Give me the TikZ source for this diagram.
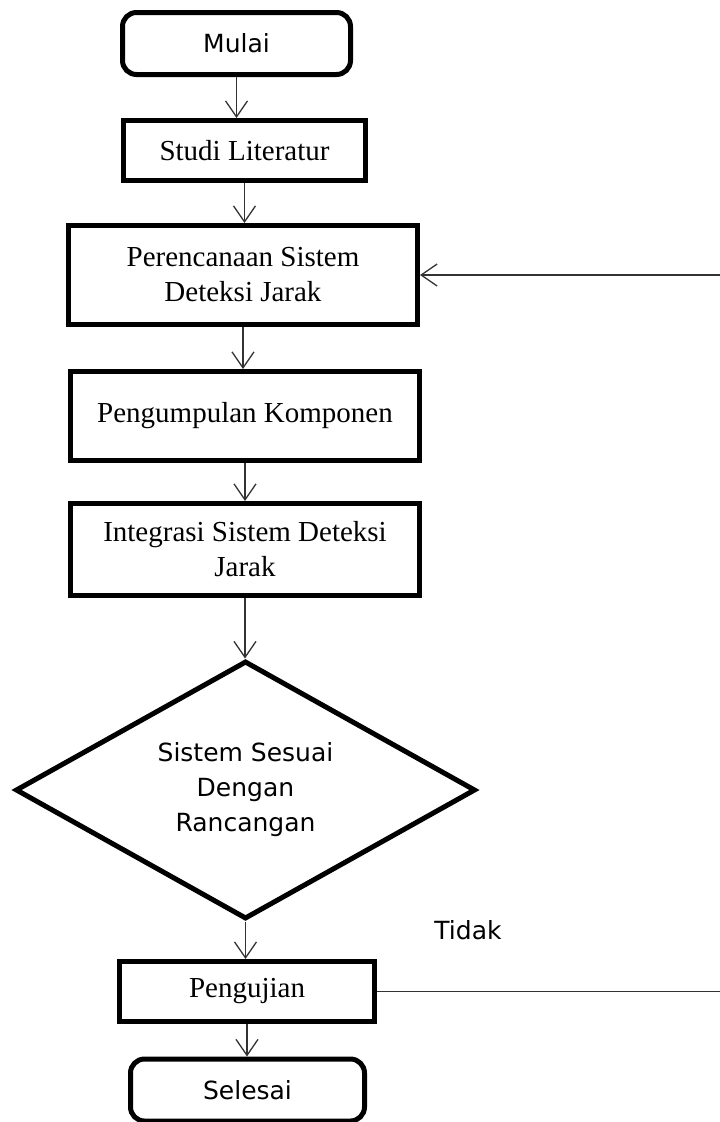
\documentclass[tikz,border=0pt]{standalone}
\usepackage{fontspec}
\setmainfont{Liberation Serif}
\newfontfamily\sansv{DejaVu Sans}
\usetikzlibrary{shapes.geometric, arrows.meta, positioning}

\tikzset{
  proses/.style={draw=black, line width=5pt, fill=white, align=center, inner sep=0pt,
    font=\fontsize{29}{35}\selectfont},
  terminal/.style={draw=black, line width=5pt, rounded corners=14pt, fill=white, align=center,
    inner sep=0pt, font=\sansv\fontsize{25}{30}\selectfont},
  keputusan/.style={diamond, draw=black, line width=5pt, aspect=1.77, inner sep=0pt, align=center,
    font=\sansv\fontsize{25}{35}\selectfont},
  alur/.style={draw=black!80, line width=1.3pt, -{Straight Barb[length=16pt, width=22pt]}},
  garis/.style={draw=black!80, line width=1.3pt},
}

\begin{document}
\begin{tikzpicture}[x=1pt, y=-1pt]
  \useasboundingbox (0,0) rectangle (720,1122);

  % ===== Blok-blok alur =====
  \node[terminal, minimum width=228pt, minimum height=62pt] (mulai) at (236.5,43.5) {Mulai};
  \node[proses, minimum width=242pt, minimum height=60pt] (studi) at (244.5,150.5) {Studi Literatur};
  \node[proses, minimum width=349pt, minimum height=99pt] (rencana) at (243,275) {Perencanaan Sistem\\Deteksi Jarak};
  \node[proses, minimum width=349pt, minimum height=89pt] (kumpul) at (245,416) {Pengumpulan Komponen};
  \node[proses, minimum width=349pt, minimum height=92pt] (integrasi) at (245,549.5) {Integrasi Sistem Deteksi\\Jarak};
  \node[keputusan, minimum width=460pt, minimum height=258pt] (sesuai) at (245.5,790) {Sistem Sesuai\\Dengan\\Rancangan};
  \node[proses, minimum width=255pt, minimum height=60pt] (uji) at (247,991.5) {Pengujian};
  \node[terminal, minimum width=234pt, minimum height=62pt] (selesai) at (247.5,1090) {Selesai};

  % label cabang
  \node[font=\sansv\fontsize{25}{30}\selectfont] (tidak) at (468,930) {Tidak};

  % ===== Panah utama =====
  \draw[alur] (mulai.south) -- (mulai.south |- studi.north);
  \draw[alur] (studi.south) -- (studi.south |- rencana.north);
  \draw[alur] (rencana.south) -- (rencana.south |- kumpul.north);
  \draw[alur] (kumpul.south) -- (kumpul.south |- integrasi.north);
  \draw[alur] (integrasi.south) -- (integrasi.south |- sesuai.north);
  \draw[alur] (sesuai.south) -- (sesuai.south |- uji.north);
  \draw[alur] (uji.south) -- (uji.south |- selesai.north);

  % ===== Jalur balik (Tidak) =====
  \coordinate (balikA) at (720,991.5);
  \coordinate (balikB) at (720,275);
  \draw[garis] (uji.east) -- (balikA);
  \draw[alur] (balikB) -- (rencana.east);
\end{tikzpicture}
\end{document}
